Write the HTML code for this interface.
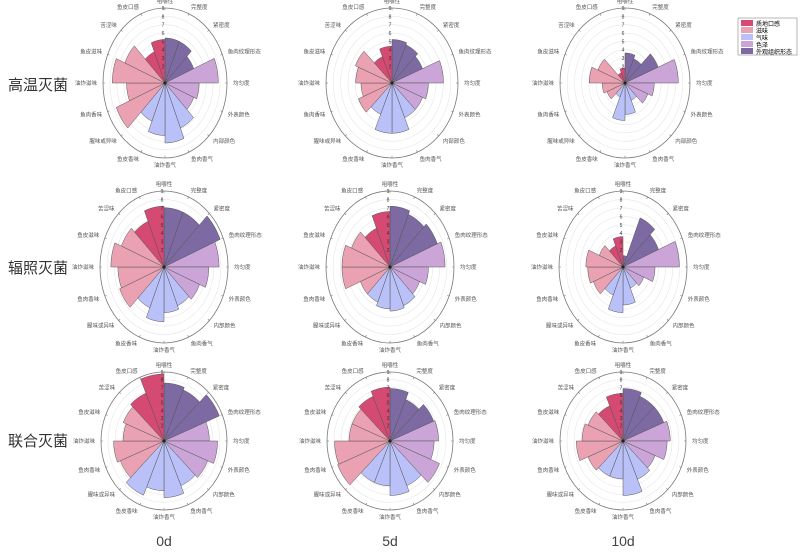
<!DOCTYPE html>
<html><head><meta charset="utf-8"><style>
body{margin:0;background:#fff;}
svg{display:block;}
text{font-family:"Liberation Sans","Noto Sans CJK SC",sans-serif;}
</style></head><body>
<svg id="s" width="800" height="557" viewBox="0 0 800 557" xmlns="http://www.w3.org/2000/svg">
<text x="8" y="90" font-size="15" fill="#333">高温灭菌</text>
<text x="8" y="273" font-size="15" fill="#333">辐照灭菌</text>
<text x="8" y="446" font-size="15" fill="#333">联合灭菌</text>
<text x="164" y="546" font-size="14" fill="#444" text-anchor="middle">0d</text>
<text x="390" y="546" font-size="14" fill="#444" text-anchor="middle">5d</text>
<text x="623" y="546" font-size="14" fill="#444" text-anchor="middle">10d</text>
<rect x="738" y="18" width="59" height="37" fill="#fff" stroke="#888" stroke-width="0.6"/>
<rect x="741" y="20" width="12" height="6" fill="#d54a72"/><text x="756" y="26" font-size="6">质地口感</text>
<rect x="741" y="27" width="12" height="6" fill="#eaa2b3"/><text x="756" y="33" font-size="6">滋味</text>
<rect x="741" y="34" width="12" height="6" fill="#b9c1f8"/><text x="756" y="40" font-size="6">气味</text>
<rect x="741" y="41" width="12" height="6" fill="#cba5d8"/><text x="756" y="47" font-size="6">色泽</text>
<rect x="741" y="48" width="12" height="6" fill="#7d6aa2"/><text x="756" y="54" font-size="6">外观组织形态</text>
<g id="g"></g>
</svg>
<script>
var labels=["咀嚼性","完整度","紧密度","鱼肉纹理形态","均匀度","外表颜色","内部颜色","鱼肉香气","油炸香气","鱼皮香味","腥味或异味","鱼肉香味","油炸滋味","鱼皮滋味","苦涩味","鱼皮口感"];
var cols=["#7d6aa2","#7d6aa2","#7d6aa2","#cba5d8","#cba5d8","#cba5d8","#b9c1f8","#b9c1f8","#b9c1f8","#b9c1f8","#eaa2b3","#eaa2b3","#eaa2b3","#eaa2b3","#d54a72","#d54a72"];
var charts=[
[165,83,62,75,[.6,.6,.5,.86,.55,.5,.65,.8,.7,.55,.85,.62,.85,.7,.45,.58]],
[392,83,66,75,[.58,.55,.5,.78,.55,.5,.5,.67,.67,.45,.55,.47,.55,.6,.38,.49]],
[625,83,65,75,[.4,.35,.55,.82,.45,.38,.25,.42,.5,.2,.3,.35,.55,.45,.15,.2]],
[164,267,64,76,[.78,.78,.95,.86,.7,.6,.55,.6,.72,.58,.75,.72,.83,.72,.65,.8]],
[390,267,64,76,[.8,.75,.8,.86,.6,.5,.55,.58,.55,.5,.5,.75,.75,.65,.55,.73]],
[623,267,64,76,[.15,.7,.6,.88,.5,.35,.3,.5,.6,.4,.5,.55,.58,.4,.3,.4]],
[164,441,63,69,[.84,.8,.95,.72,.85,.75,.7,.82,.72,.85,.75,.8,.65,.7,.75,.97]],
[390,441,63,69,[.76,.65,.75,.77,.7,.85,.7,.79,.65,.65,.9,.88,.65,.65,.7,.78]],
[623,441,63,69,[.76,.7,.7,.75,.7,.55,.6,.79,.55,.55,.6,.74,.65,.6,.55,.69]]
];
var h="";
function P(cx,cy,rx,ry,r,a){a=a*Math.PI/180;return [cx+rx*r*Math.sin(a),cy-ry*r*Math.cos(a)];}
charts.forEach(function(c){
 var cx=c[0],cy=c[1],rx=c[2],ry=c[3],v=c[4];
 for(var i=1;i<=9;i++){h+='<ellipse cx="'+cx+'" cy="'+cy+'" rx="'+(rx*i/9)+'" ry="'+(ry*i/9)+'" fill="none" stroke="'+(i==9?'#777':'#e6e6e6')+'" stroke-width="'+(i==9?0.8:0.6)+'"/>';}
 for(var k=0;k<16;k++){var a=P(cx,cy,rx,ry,.97,k*22.5),b=P(cx,cy,rx,ry,1,k*22.5);h+='<line x1="'+a[0]+'" y1="'+a[1]+'" x2="'+b[0]+'" y2="'+b[1]+'" stroke="#777" stroke-width="0.6"/>';}
 for(var k=0;k<16;k++){
  var pts=[cx+","+cy];
  for(var t=0;t<=8;t++){var p=P(cx,cy,rx,ry,v[k],k*22.5+t*22.5/8);pts.push(p[0].toFixed(2)+","+p[1].toFixed(2));}
  h+='<polygon points="'+pts.join(" ")+'" fill="'+cols[k]+'" stroke="#555" stroke-width="0.5"/>';
 }
 for(var i=2;i<=9;i++){h+='<text x="'+(cx-2)+'" y="'+(cy-ry*i/9+2)+'" font-size="5" fill="#333" text-anchor="middle">'+i+'</text>';}
 h+='<circle cx="'+cx+'" cy="'+cy+'" r="1.5" fill="#222"/>';
 for(var k=0;k<16;k++){
  var a=k*22.5,s=Math.sin(a*Math.PI/180),co=Math.cos(a*Math.PI/180);
  var x=cx+(rx+6)*s,y=cy-(ry+7)*co+2;
  var anc=Math.abs(s)<0.2?"middle":(s>0?"start":"end");
  h+='<text x="'+x.toFixed(1)+'" y="'+y.toFixed(1)+'" font-size="5.5" fill="#555" text-anchor="'+anc+'">'+labels[k]+'</text>';
 }
});
document.getElementById("g").innerHTML=h;
</script>
</body></html>
